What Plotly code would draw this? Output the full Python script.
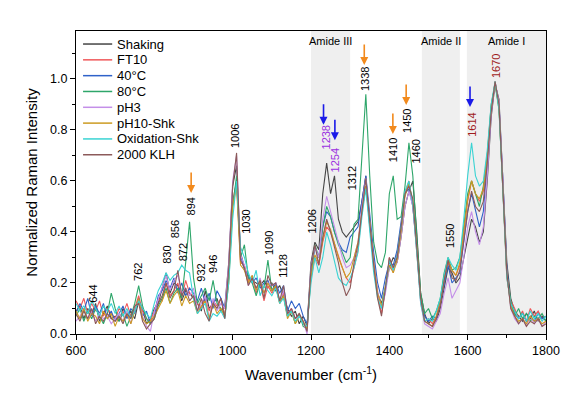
import plotly.graph_objects as go

wavenumber = list(range(600, 1801, 10))

shaking = [0.09,0.11,0.06,0.10,0.08,0.12,0.05,0.08,0.11,0.06,
           0.07,0.05,0.10,0.07,0.09,0.06,0.13,0.10,0.04,0.06,
           0.10,0.12,0.18,0.24,0.16,0.20,0.19,0.13,0.17,0.16,
           0.14,0.12,0.09,0.17,0.10,0.12,0.14,0.09,0.11,0.28,
           0.58,0.66,0.32,0.26,0.22,0.21,0.20,0.19,0.21,0.18,
           0.20,0.17,0.19,0.15,0.10,0.07,0.09,0.04,0.07,0.03,
           0.28,0.36,0.33,0.55,0.67,0.55,0.62,0.45,0.40,0.38,
           0.40,0.42,0.44,0.52,0.62,0.42,0.28,0.16,0.12,0.18,
           0.26,0.30,0.28,0.38,0.50,0.56,0.60,0.40,0.16,0.08,
           0.04,0.06,0.05,0.10,0.18,0.26,0.24,0.20,0.22,0.30,
           0.38,0.45,0.42,0.36,0.40,0.60,0.85,0.98,0.92,0.62,
           0.28,0.14,0.09,0.07,0.05,0.08,0.06,0.09,0.05,0.07,
           0.05]
ft10 = [0.13,0.10,0.14,0.08,0.12,0.09,0.13,0.07,0.10,0.08,
        0.06,0.10,0.08,0.12,0.07,0.10,0.15,0.09,0.06,0.05,
        0.09,0.14,0.13,0.20,0.15,0.17,0.20,0.14,0.21,0.16,
        0.15,0.12,0.10,0.14,0.09,0.13,0.11,0.14,0.07,0.22,
        0.52,0.60,0.28,0.27,0.21,0.22,0.16,0.20,0.13,0.19,
        0.16,0.19,0.12,0.16,0.07,0.10,0.06,0.08,0.04,0.03,
        0.22,0.30,0.27,0.36,0.42,0.40,0.35,0.30,0.26,0.22,
        0.20,0.26,0.33,0.48,0.58,0.43,0.28,0.15,0.08,0.17,
        0.30,0.24,0.32,0.42,0.55,0.60,0.50,0.33,0.14,0.05,
        0.06,0.04,0.07,0.13,0.22,0.28,0.25,0.23,0.27,0.40,
        0.52,0.60,0.55,0.52,0.56,0.70,0.89,0.98,0.89,0.56,
        0.22,0.13,0.10,0.06,0.09,0.05,0.10,0.07,0.09,0.06,
        0.07]
c40 = [0.08,0.12,0.09,0.14,0.07,0.11,0.08,0.12,0.06,0.09,
       0.05,0.08,0.11,0.06,0.10,0.08,0.14,0.07,0.09,0.04,
       0.07,0.15,0.17,0.21,0.18,0.22,0.16,0.20,0.15,0.18,
       0.16,0.13,0.18,0.12,0.16,0.10,0.17,0.14,0.10,0.24,
       0.50,0.60,0.31,0.25,0.23,0.20,0.22,0.18,0.20,0.21,
       0.17,0.20,0.16,0.19,0.09,0.13,0.10,0.12,0.07,0.04,
       0.24,0.34,0.30,0.42,0.48,0.46,0.40,0.36,0.33,0.32,
       0.38,0.40,0.42,0.52,0.62,0.47,0.32,0.20,0.14,0.22,
       0.28,0.27,0.33,0.44,0.55,0.57,0.50,0.34,0.13,0.07,
       0.05,0.07,0.06,0.12,0.20,0.27,0.20,0.22,0.24,0.36,
       0.48,0.55,0.48,0.42,0.48,0.66,0.87,0.99,0.90,0.60,
       0.26,0.11,0.08,0.06,0.08,0.05,0.07,0.05,0.08,0.06,
       0.07]
c80 = [0.07,0.10,0.05,0.09,0.06,0.10,0.07,0.04,0.08,0.16,
       0.10,0.05,0.08,0.03,0.07,0.12,0.19,0.11,0.06,0.04,
       0.06,0.11,0.14,0.18,0.12,0.16,0.18,0.14,0.28,0.44,
       0.22,0.12,0.15,0.18,0.13,0.21,0.12,0.10,0.07,0.22,
       0.50,0.62,0.30,0.35,0.22,0.20,0.15,0.20,0.18,0.29,
       0.17,0.19,0.13,0.15,0.07,0.09,0.04,0.08,0.03,0.02,
       0.24,0.35,0.30,0.42,0.50,0.46,0.40,0.35,0.32,0.28,
       0.30,0.43,0.45,0.70,0.94,0.62,0.36,0.28,0.26,0.32,
       0.55,0.62,0.45,0.46,0.58,0.75,0.62,0.38,0.16,0.08,
       0.10,0.06,0.09,0.14,0.24,0.30,0.25,0.26,0.30,0.42,
       0.55,0.60,0.55,0.50,0.58,0.70,0.90,0.98,0.88,0.55,
       0.24,0.13,0.07,0.10,0.06,0.08,0.05,0.07,0.06,0.08,
       0.05]
ph3 = [0.05,0.07,0.10,0.06,0.09,0.05,0.08,0.06,0.07,0.04,
       0.06,0.08,0.05,0.09,0.04,0.10,0.13,0.07,0.03,0.01,
       0.09,0.14,0.19,0.23,0.17,0.21,0.23,0.16,0.18,0.15,
       0.18,0.09,0.12,0.15,0.06,0.14,0.09,0.12,0.10,0.28,
       0.60,0.70,0.31,0.27,0.19,0.23,0.17,0.22,0.16,0.20,
       0.19,0.20,0.13,0.17,0.08,0.10,0.06,0.07,0.05,0.00,
       0.27,0.34,0.30,0.45,0.54,0.48,0.42,0.36,0.30,0.26,
       0.27,0.30,0.36,0.50,0.61,0.44,0.28,0.17,0.10,0.16,
       0.26,0.25,0.28,0.38,0.50,0.56,0.50,0.33,0.12,0.04,
       0.03,0.02,0.05,0.08,0.16,0.22,0.14,0.17,0.20,0.30,
       0.42,0.48,0.40,0.35,0.42,0.62,0.86,0.99,0.91,0.60,
       0.24,0.10,0.06,0.04,0.06,0.03,0.07,0.04,0.06,0.03,
       0.05]
ph10 = [0.09,0.06,0.10,0.05,0.08,0.07,0.04,0.09,0.06,0.08,
        0.03,0.07,0.05,0.08,0.04,0.09,0.14,0.06,0.04,0.05,
        0.07,0.10,0.13,0.17,0.12,0.15,0.17,0.11,0.15,0.12,
        0.13,0.08,0.11,0.13,0.06,0.12,0.08,0.10,0.07,0.20,
        0.50,0.58,0.27,0.25,0.20,0.23,0.17,0.21,0.16,0.20,
        0.17,0.19,0.12,0.15,0.06,0.09,0.04,0.07,0.05,0.02,
        0.23,0.31,0.28,0.37,0.44,0.41,0.35,0.30,0.26,0.22,
        0.24,0.30,0.36,0.48,0.58,0.44,0.28,0.16,0.11,0.19,
        0.27,0.24,0.29,0.40,0.54,0.59,0.52,0.34,0.13,0.05,
        0.04,0.03,0.07,0.12,0.21,0.29,0.25,0.23,0.28,0.40,
        0.53,0.60,0.55,0.53,0.57,0.69,0.88,0.99,0.89,0.57,
        0.23,0.11,0.07,0.05,0.06,0.04,0.07,0.05,0.06,0.04,
        0.05]
oxidation = [0.12,0.09,0.11,0.08,0.13,0.10,0.07,0.11,0.09,0.12,
             0.08,0.11,0.07,0.10,0.06,0.09,0.13,0.10,0.08,0.06,
             0.12,0.17,0.20,0.24,0.21,0.23,0.24,0.27,0.25,0.24,
             0.14,0.08,0.10,0.12,0.05,0.08,0.07,0.09,0.06,0.20,
             0.45,0.60,0.34,0.30,0.24,0.20,0.25,0.15,0.19,0.17,
             0.15,0.18,0.12,0.14,0.07,0.09,0.05,0.07,0.04,0.03,
             0.20,0.30,0.24,0.30,0.40,0.35,0.28,0.22,0.20,0.19,
             0.22,0.26,0.32,0.46,0.57,0.40,0.24,0.14,0.10,0.18,
             0.29,0.25,0.31,0.42,0.56,0.60,0.51,0.32,0.12,0.05,
             0.06,0.05,0.09,0.14,0.23,0.30,0.27,0.25,0.30,0.45,
             0.62,0.75,0.62,0.58,0.60,0.72,0.90,0.99,0.88,0.56,
             0.22,0.12,0.09,0.06,0.08,0.05,0.09,0.06,0.08,0.05,
             0.07]
klh2000 = [0.08,0.05,0.09,0.06,0.10,0.04,0.07,0.05,0.08,0.06,
           0.05,0.07,0.04,0.08,0.06,0.11,0.12,0.05,0.02,0.04,
           0.06,0.12,0.15,0.20,0.14,0.17,0.25,0.15,0.18,0.13,
           0.15,0.09,0.14,0.08,0.05,0.12,0.10,0.14,0.06,0.26,
           0.58,0.71,0.29,0.26,0.19,0.22,0.18,0.21,0.14,0.23,
           0.19,0.20,0.13,0.19,0.08,0.10,0.06,0.08,0.05,0.01,
           0.26,0.35,0.27,0.38,0.45,0.40,0.34,0.28,0.20,0.15,
           0.18,0.28,0.35,0.49,0.61,0.44,0.27,0.14,0.07,0.18,
           0.30,0.26,0.30,0.42,0.55,0.58,0.53,0.34,0.14,0.05,
           0.04,0.03,0.06,0.11,0.21,0.29,0.22,0.21,0.25,0.37,
           0.48,0.56,0.50,0.48,0.52,0.67,0.87,0.99,0.90,0.57,
           0.24,0.10,0.07,0.04,0.06,0.03,0.05,0.04,0.06,0.03,
           0.04]

series_names = ["Shaking", "FT10", "40°C", "80°C", "pH3", "pH10-Shk", "Oxidation-Shk", "2000 KLH"]
series_values = [shaking, ft10, c40, c80, ph3, ph10, oxidation, klh2000]
series_colors = ["#454545", "#f0585a", "#2f62c9", "#2ea66a", "#c48fe8", "#cc9b22", "#3ad3d3", "#8c5a5a"]

# shaded regions (start, end, label)
regions = [(1200, 1300, "Amide III"), (1483, 1580, "Amide II"), (1598, 1800, "Amide I")]

# peak labels: (label text, x position, label y centre, colour)
peak_labels = [("644", 643, 0.157, "black"), ("762", 758, 0.243, "black"), ("830", 832, 0.31, "black"),
               ("856", 855, 0.41, "black"), ("872", 873, 0.32, "black"), ("894", 896, 0.50, "black"),
               ("932", 919, 0.24, "black"), ("946", 950, 0.275, "black"), ("1006", 1006, 0.776, "black"),
               ("1030", 1034, 0.44, "black"), ("1090", 1093, 0.357, "black"), ("1128", 1128, 0.267, "black"),
               ("1206", 1202, 0.44, "black"), ("1238", 1238, 0.77, "#9b30e0"), ("1254", 1261, 0.68, "#9b30e0"),
               ("1312", 1307, 0.61, "black"), ("1338", 1338, 1.00, "black"), ("1410", 1409, 0.72, "black"),
               ("1450", 1445, 0.835, "black"), ("1460", 1468, 0.715, "black"), ("1550", 1555, 0.384, "black"),
               ("1614", 1611, 0.82, "#a01c1c"), ("1670", 1672, 1.05, "#a01c1c")]

# arrows: (x, tip y, colour)
arrows = [(894, 0.553, "#f28a1d"), (1232, 0.82, "#1a1ae8"), (1261, 0.76, "#1a1ae8"),
          (1336, 1.055, "#f28a1d"), (1409, 0.784, "#f28a1d"), (1443, 0.898, "#f28a1d"),
          (1606, 0.89, "#1a1ae8")]

fig = go.Figure()
for name, vals, col in zip(series_names, series_values, series_colors):
    fig.add_trace(go.Scatter(x=wavenumber, y=vals, mode="lines", name=name,
                             line=dict(color=col, width=1.1), showlegend=False))

for x0, x1, lab in regions:
    fig.add_shape(type="rect", xref="x", yref="paper", x0=x0, x1=x1, y0=0, y1=1,
                  fillcolor="#efefef", line=dict(width=0), layer="below")
    fig.add_annotation(x=(x0 + x1) / 2, y=1.149, text=lab, showarrow=False,
                       font=dict(size=11, color="black"))

for lab, xp, yc, col in peak_labels:
    fig.add_annotation(x=xp, y=yc, text=lab, textangle=-90, showarrow=False,
                       font=dict(size=11, color=col), xanchor="center", yanchor="middle")

for xp, yt, col in arrows:
    fig.add_annotation(x=xp, y=yt, ax=0, ay=-22, text="", showarrow=True,
                       arrowhead=2, arrowsize=1, arrowwidth=1.6, arrowcolor=col)

# manual legend (paper coordinates of the plot area)
leg_top = 0.957
leg_step = 0.0522
for i, (name, col) in enumerate(zip(series_names, series_colors)):
    yy = leg_top - i * leg_step
    fig.add_shape(type="line", xref="paper", yref="paper", x0=0.015, x1=0.077, y0=yy, y1=yy,
                  line=dict(color=col, width=1.5))
    fig.add_annotation(xref="paper", yref="paper", x=0.083, y=yy, text=name, showarrow=False,
                       xanchor="left", yanchor="middle", font=dict(size=13, color="black"))

fig.update_layout(
    width=583, height=395,
    margin=dict(l=68, r=45, t=23, b=69),
    paper_bgcolor="white", plot_bgcolor="white",
    font=dict(family="Liberation Sans, Arial", size=12, color="black"),
    showlegend=False,
)
fig.update_xaxes(range=[600, 1800], tickmode="linear", tick0=600, dtick=200,
                 ticks="outside", ticklen=5, tickcolor="black",
                 minor=dict(ticks="outside", ticklen=3, dtick=100, tickcolor="black"),
                 showline=True, linecolor="black", linewidth=1, mirror=True,
                 showgrid=False, zeroline=False,
                 title=dict(text="Wavenumber (cm<sup>-1</sup>)", font=dict(size=15), standoff=12),
                 tickfont=dict(size=12.5))
fig.update_yaxes(range=[0, 1.188], tickmode="linear", tick0=0, dtick=0.2, tickformat=".1f",
                 ticks="outside", ticklen=5, tickcolor="black",
                 minor=dict(ticks="outside", ticklen=3, dtick=0.1, tickcolor="black"),
                 showline=True, linecolor="black", linewidth=1, mirror=True,
                 showgrid=False, zeroline=False,
                 title=dict(text="Normalized Raman Intensity", font=dict(size=15), standoff=8),
                 tickfont=dict(size=12.5))

fig.write_html("out.html")
